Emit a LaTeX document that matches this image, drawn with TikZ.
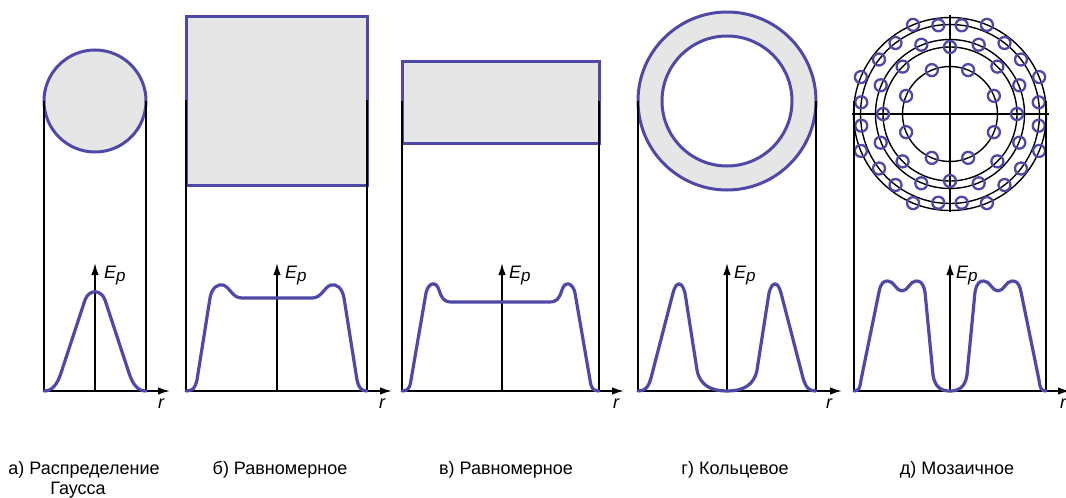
\documentclass[tikz,border=0pt]{standalone}
\usepackage{fontspec}
\setmainfont{Liberation Sans}
\usetikzlibrary{arrows.meta}
\definecolor{beam}{RGB}{80,72,168}
\definecolor{shade}{RGB}{230,230,230}
\newcommand{\EpLabel}{\fontsize{18}{18}\selectfont\itshape E\raisebox{-3.5pt}{\fontsize{17}{17}\selectfont p}}
\begin{document}
\begin{tikzpicture}[x=1pt,y=-1pt,
  beamline/.style={draw=beam,line width=3.2pt,line join=round,line cap=round},
  beamshape/.style={draw=beam,fill=shade,line width=3pt},
  guide/.style={black,line width=1.4pt},
  axisline/.style={black,line width=1.7pt,-{Latex[length=12pt,width=7.5pt]}},
  ringline/.style={black,line width=1.4pt},
  spot/.style={draw=beam,line width=2.3pt},
  eplab/.style={anchor=base west,inner sep=0pt},
  rlab/.style={inner sep=0pt,font=\fontsize{18}{18}\selectfont\itshape},
  caption/.style={inner sep=0pt,anchor=base,font=\fontsize{18}{21}\selectfont}]
\useasboundingbox (0,0) rectangle (1066,498);

% ---------- panel a ----------
\filldraw[beamshape] (95,101) circle (51);
\draw[guide] (44,101) -- (44,391);
\draw[guide] (146,101) -- (146,391);
\coordinate (a0) at (44,391);
\coordinate (ax) at (170,391);
\coordinate (ay0) at (95,391);
\coordinate (ay) at (95,263);
\draw[axisline] (a0) -- (ax);
\draw[axisline] (ay0) -- (ay);
\draw[beamline] (44,391) .. controls (52,391) and (57,385) .. (61,373) -- (85,300)
  .. controls (89,289) and (101,289) .. (105,300) -- (129,373)
  .. controls (133,385) and (138,391) .. (146,391);
\node[eplab] (epa) at (104,278) {\EpLabel};
\node[rlab] (ra) at (161,404) {r};

% ---------- panel b ----------
\filldraw[beamshape] (186,16) rectangle (367,185);
\draw[guide] (186,100) -- (186,391);
\draw[guide] (367,100) -- (367,391);
\coordinate (b0) at (186,391);
\coordinate (bx) at (392,391);
\coordinate (by0) at (277,391);
\coordinate (by) at (277,263);
\draw[axisline] (b0) -- (bx);
\draw[axisline] (by0) -- (by);
\draw[beamline] (186,391) .. controls (193,391) and (195,388) .. (197,380) -- (210,298)
  .. controls (212,287) and (218,284) .. (223,285)
  .. controls (230,287) and (232,298) .. (242,298) -- (312,298)
  .. controls (322,298) and (324,287) .. (331,285)
  .. controls (336,284) and (342,287) .. (344,298) -- (357,380)
  .. controls (359,388) and (361,391) .. (367,391);
\node[eplab] (epb) at (285,278) {\EpLabel};
\node[rlab] (rb) at (382,404) {r};

% ---------- panel c ----------
\filldraw[beamshape] (402,61) rectangle (599,143);
\draw[guide] (402,101) -- (402,391);
\draw[guide] (599,101) -- (599,391);
\coordinate (c0) at (402,391);
\coordinate (cx) at (624,391);
\coordinate (cy0) at (502,391);
\coordinate (cy) at (502,263);
\draw[axisline] (c0) -- (cx);
\draw[axisline] (cy0) -- (cy);
\draw[beamline] (402,391) .. controls (408,391) and (410,388) .. (411,380) -- (426,293)
  .. controls (428,283) and (436,280) .. (439,290)
  .. controls (442,299) and (444,302) .. (452,302) -- (549,302)
  .. controls (557,302) and (559,299) .. (562,290)
  .. controls (565,280) and (573,283) .. (575,293) -- (590,380)
  .. controls (591,388) and (593,391) .. (599,391);
\node[eplab] (epc) at (509,278) {\EpLabel};
\node[rlab] (rc) at (616,404) {r};

% ---------- panel d ----------
\filldraw[beamshape, even odd rule] (727,101) circle (89) (727,101) circle (65);
\draw[guide] (638,101) -- (638,391);
\draw[guide] (816,101) -- (816,391);
\coordinate (d0) at (638,391);
\coordinate (dx) at (842,391);
\coordinate (dy0) at (727,391);
\coordinate (dy) at (727,263);
\draw[axisline] (d0) -- (dx);
\draw[axisline] (dy0) -- (dy);
\draw[beamline] (638,391) .. controls (645,391) and (648,388) .. (651,378) -- (673,293)
  .. controls (676,281) and (682,281) .. (685,293) -- (697,370)
  .. controls (700,386) and (712,391) .. (727,391)
  .. controls (742,391) and (754,386) .. (757,370) -- (769,293)
  .. controls (772,281) and (778,281) .. (781,293) -- (803,378)
  .. controls (806,388) and (809,391) .. (816,391);
\node[eplab] (epd) at (734,278) {\EpLabel};
\node[rlab] (rd) at (829,404) {r};

% ---------- panel e ----------
\begin{scope}[shift={(950,114)}]
  \draw[ringline] (-98,0) -- (99,0);
  \draw[ringline] (0,-99) -- (0,98);
  \foreach \rr in {96.5,89.5,74.5,67,47.5} \draw[ringline] (0,0) circle (\rr);
  \foreach \a in {22.5,67.5,...,337.5} \draw[spot] (\a:96.5) circle (6);
  \foreach \a in {7.5,37.5,52.5,82.5,97.5,127.5,142.5,172.5,187.5,217.5,232.5,262.5,277.5,307.5,322.5,352.5}
    \draw[spot] (\a:89.5) circle (6);
  \foreach \a in {0,45,...,315} \draw[spot] (\a:67) circle (6);
  \foreach \a in {22.5,67.5,...,337.5} \draw[spot] (\a:75) circle (6);
  \foreach \a in {22.5,67.5,...,337.5} \draw[spot] (\a:47.5) circle (6);
\end{scope}
\draw[guide] (854,101) -- (854,391);
\draw[guide] (1046,101) -- (1046,391);
\coordinate (e0) at (854,391);
\coordinate (ex) at (1070,391);
\coordinate (ey0) at (950,391);
\coordinate (ey) at (950,263);
\draw[axisline] (e0) -- (ex);
\draw[axisline] (ey0) -- (ey);
\draw[beamline] (854,391) .. controls (859,391) and (860,388) .. (861,380) -- (879,292)
  .. controls (881,282) and (884,281) .. (888,281)
  .. controls (894,281) and (896,291) .. (902,291)
  .. controls (908,291) and (910,281) .. (916,281)
  .. controls (920,281) and (923,282) .. (925,292) -- (933,375)
  .. controls (935,388) and (942,391) .. (950,391)
  .. controls (958,391) and (965,388) .. (967,375) -- (975,292)
  .. controls (977,282) and (980,281) .. (984,281)
  .. controls (990,281) and (992,291) .. (998,291)
  .. controls (1004,291) and (1006,281) .. (1012,281)
  .. controls (1016,281) and (1019,282) .. (1021,292) -- (1039,380)
  .. controls (1040,388) and (1041,391) .. (1046,391);
\node[eplab] (epe) at (956,278) {\EpLabel};
\node[rlab] (re) at (1063,404) {r};

% ---------- captions ----------
\node[caption] (capa) at (84,474) {а) Распределение};
\node[caption] (capa2) at (78,494) {Гаусса};
\node[caption] (capb) at (280,474) {б) Равномерное};
\node[caption] (capc) at (506,474) {в) Равномерное};
\node[caption] (capd) at (735,474) {г) Кольцевое};
\node[caption] (cape) at (957,474) {д) Мозаичное};
\end{tikzpicture}
\end{document}
